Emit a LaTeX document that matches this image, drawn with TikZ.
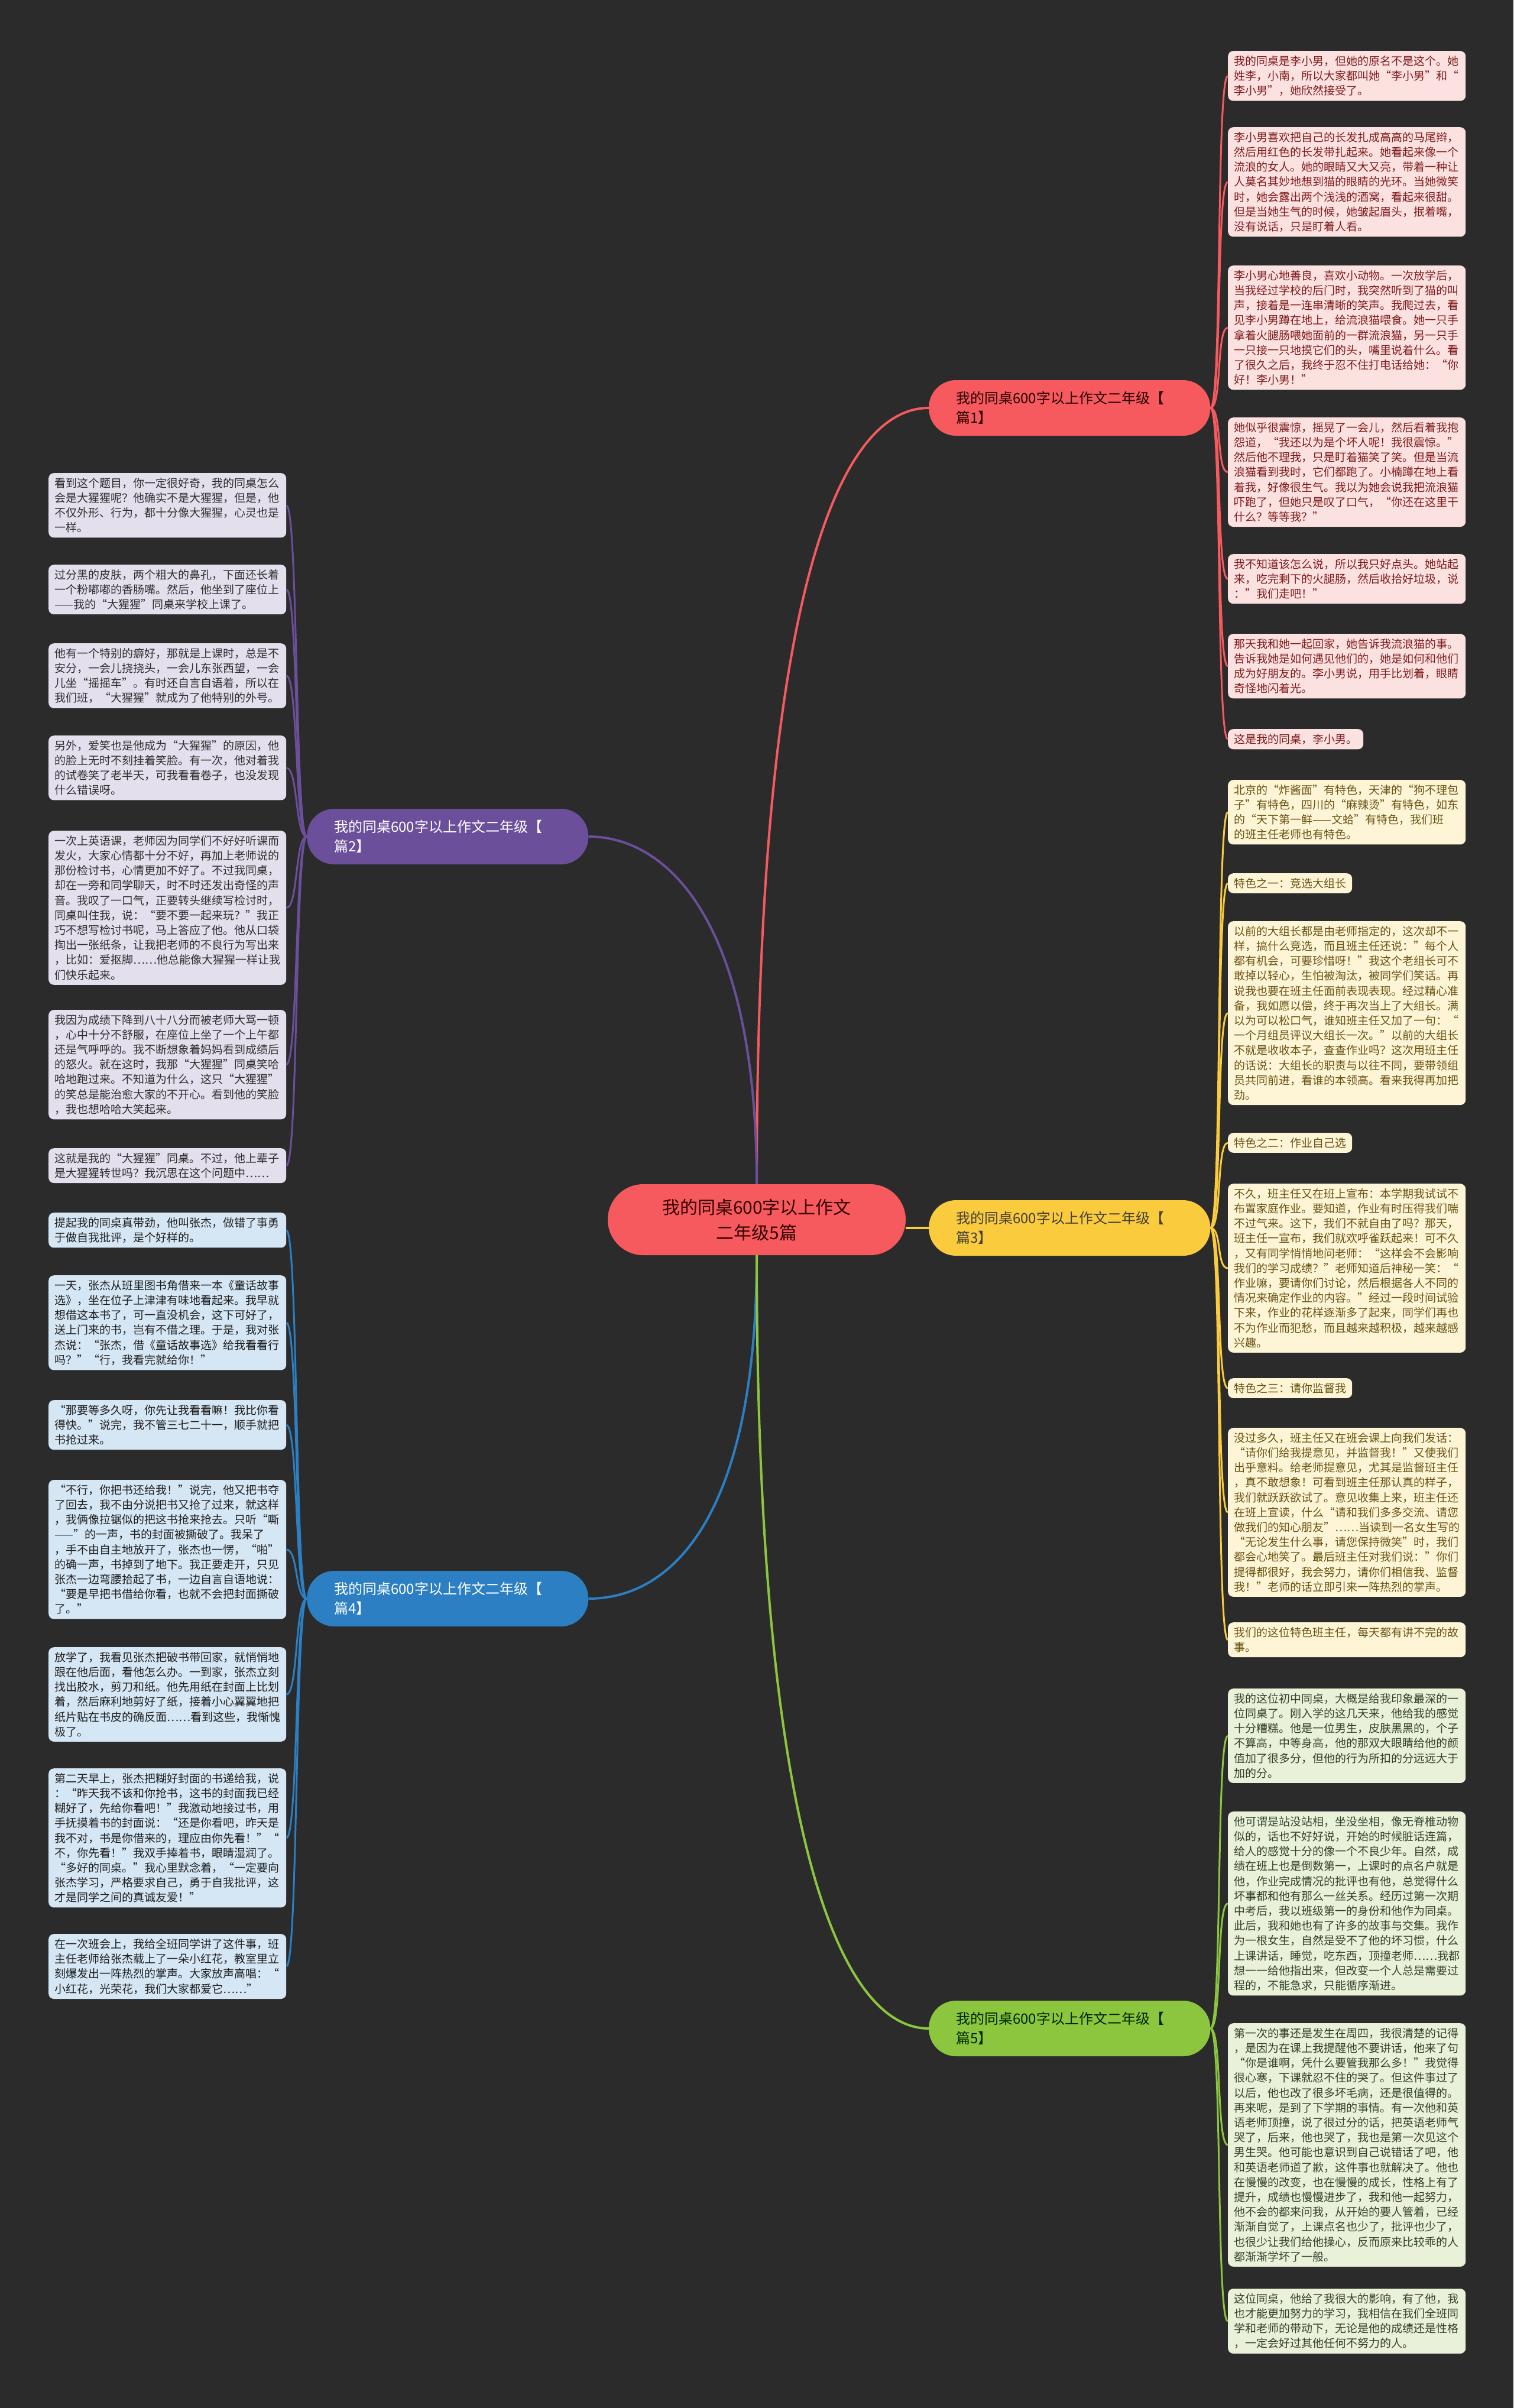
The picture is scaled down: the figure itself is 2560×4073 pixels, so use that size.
\documentclass[tikz,border=0pt]{standalone}
\usepackage{fontspec}
\setmainfont{Noto Sans CJK SC}
\definecolor{bgc}{HTML}{2B2B2B}
\definecolor{redc}{HTML}{F65A5E}
\definecolor{purc}{HTML}{6C4F9B}
\definecolor{yelc}{HTML}{FBCB3E}
\definecolor{bluc}{HTML}{2B7FC2}
\definecolor{grnc}{HTML}{8CC63F}
\definecolor{pinkfill}{HTML}{FCE1E1}
\definecolor{pinktext}{HTML}{7E1B1B}
\definecolor{yelfill}{HTML}{FDF5D6}
\definecolor{yeltext}{HTML}{6A5313}
\definecolor{grnfill}{HTML}{E9F2D9}
\definecolor{grntext}{HTML}{33402A}
\definecolor{purfill}{HTML}{E3DFEC}
\definecolor{purtext}{HTML}{2E2E2E}
\definecolor{blufill}{HTML}{D5E6F4}
\definecolor{blutext}{HTML}{1E1E1E}
\tikzset{
  leafbase/.style={align=left, inner xsep=10pt, inner ysep=8pt, rounded corners=9pt, font=\fontsize{19}{25.2}\selectfont},
  leafwide/.style={leafbase, text width=382pt},
  rleaf/.style={anchor=north west},
  lleaf/.style={anchor=north west},
  pinkleaf/.style={fill=pinkfill, text=pinktext},
  yelleaf/.style={fill=yelfill, text=yeltext},
  grnleaf/.style={fill=grnfill, text=grntext},
  purleaf/.style={fill=purfill, text=purtext},
  bluleaf/.style={fill=blufill, text=blutext},
  branchnode/.style={anchor=west, text width=384pt, align=left, inner xsep=46pt, minimum height=94pt, rounded corners=46pt, font=\fontsize{24}{33}\selectfont},
  trunk/.style={line width=4pt},
  twig/.style={line width=3pt},
}
\begin{document}
\begin{tikzpicture}[x=1pt,y=-1pt]
\useasboundingbox (0,0) rectangle (2560,4073);
\fill[bgc] (0,0) rectangle (2560,4073);

% centre and branches
\node[fill=redc, text=black!80!red, align=center, minimum width=504pt, minimum height=120pt, rounded corners=60pt, font=\fontsize{30}{43}\selectfont] (c) at (1280,2063) {我的同桌600字以上作文\\二年级5篇};
\node[branchnode, fill=redc, text=black!85!red] (b1) at (1571,690) {我的同桌600字以上作文二年级【\\篇1】};
\node[branchnode, fill=purc, text=white] (b2) at (519,1415) {我的同桌600字以上作文二年级【\\篇2】};
\node[branchnode, fill=yelc, text=black!85!yellow] (b3) at (1571,2077) {我的同桌600字以上作文二年级【\\篇3】};
\node[branchnode, fill=bluc, text=white] (b4) at (519,2704) {我的同桌600字以上作文二年级【\\篇4】};
\node[branchnode, fill=grnc, text=black!85!green] (b5) at (1571,3431) {我的同桌600字以上作文二年级【\\篇5】};

% right column: 篇1
\node[leafwide, rleaf, pinkleaf] (r1) at (2077,86) {我的同桌是李小男，但她的原名不是这个。她\\姓李，小南，所以大家都叫她“李小男”和“\\李小男”，她欣然接受了。};
\node[leafwide, rleaf, pinkleaf] (r2) at (2077,215) {李小男喜欢把自己的长发扎成高高的马尾辫，\\然后用红色的长发带扎起来。她看起来像一个\\流浪的女人。她的眼睛又大又亮，带着一种让\\人莫名其妙地想到猫的眼睛的光环。当她微笑\\时，她会露出两个浅浅的酒窝，看起来很甜。\\但是当她生气的时候，她皱起眉头，抿着嘴，\\没有说话，只是盯着人看。};
\node[leafwide, rleaf, pinkleaf] (r3) at (2077,449) {李小男心地善良，喜欢小动物。一次放学后，\\当我经过学校的后门时，我突然听到了猫的叫\\声，接着是一连串清晰的笑声。我爬过去，看\\见李小男蹲在地上，给流浪猫喂食。她一只手\\拿着火腿肠喂她面前的一群流浪猫，另一只手\\一只接一只地摸它们的头，嘴里说着什么。看\\了很久之后，我终于忍不住打电话给她：“你\\好！李小男！”};
\node[leafwide, rleaf, pinkleaf] (r4) at (2077,706) {她似乎很震惊，摇晃了一会儿，然后看着我抱\\怨道，“我还以为是个坏人呢！我很震惊。”\\然后他不理我，只是盯着猫笑了笑。但是当流\\浪猫看到我时，它们都跑了。小楠蹲在地上看\\着我，好像很生气。我以为她会说我把流浪猫\\吓跑了，但她只是叹了口气，“你还在这里干\\什么？等等我？”};
\node[leafwide, rleaf, pinkleaf] (r5) at (2077,937) {我不知道该怎么说，所以我只好点头。她站起\\来，吃完剩下的火腿肠，然后收拾好垃圾，说\\："我们走吧！"};
\node[leafwide, rleaf, pinkleaf] (r6) at (2077,1072) {那天我和她一起回家，她告诉我流浪猫的事。\\告诉我她是如何遇见他们的，她是如何和他们\\成为好朋友的。李小男说，用手比划着，眼睛\\奇怪地闪着光。};
\node[leafbase, rleaf, pinkleaf] (r7) at (2077,1233) {这是我的同桌，李小男。};

% right column: 篇3
\node[leafwide, rleaf, yelleaf] (r8) at (2077,1319) {北京的“炸酱面”有特色，天津的“狗不理包\\子”有特色，四川的“麻辣烫”有特色，如东\\的“天下第一鲜——文蛤”有特色，我们班\\的班主任老师也有特色。};
\node[leafbase, rleaf, yelleaf] (r9) at (2077,1477) {特色之一：竞选大组长};
\node[leafwide, rleaf, yelleaf] (r10) at (2077,1558) {以前的大组长都是由老师指定的，这次却不一\\样，搞什么竞选，而且班主任还说：”每个人\\都有机会，可要珍惜呀！”我这个老组长可不\\敢掉以轻心，生怕被淘汰，被同学们笑话。再\\说我也要在班主任面前表现表现。经过精心准\\备，我如愿以偿，终于再次当上了大组长。满\\以为可以松口气，谁知班主任又加了一句：“\\一个月组员评议大组长一次。”以前的大组长\\不就是收收本子，查查作业吗？这次用班主任\\的话说：大组长的职责与以往不同，要带领组\\员共同前进，看谁的本领高。看来我得再加把\\劲。};
\node[leafbase, rleaf, yelleaf] (r11) at (2077,1916) {特色之二：作业自己选};
\node[leafwide, rleaf, yelleaf] (r12) at (2077,2002) {不久，班主任又在班上宣布：本学期我试试不\\布置家庭作业。要知道，作业有时压得我们喘\\不过气来。这下，我们不就自由了吗？那天，\\班主任一宣布，我们就欢呼雀跃起来！可不久\\，又有同学悄悄地问老师：“这样会不会影响\\我们的学习成绩？”老师知道后神秘一笑：“\\作业嘛，要请你们讨论，然后根据各人不同的\\情况来确定作业的内容。”经过一段时间试验\\下来，作业的花样逐渐多了起来，同学们再也\\不为作业而犯愁，而且越来越积极，越来越感\\兴趣。};
\node[leafbase, rleaf, yelleaf] (r13) at (2077,2331) {特色之三：请你监督我};
\node[leafwide, rleaf, yelleaf] (r14) at (2077,2415) {没过多久，班主任又在班会课上向我们发话：\\“请你们给我提意见，并监督我！”又使我们\\出乎意料。给老师提意见，尤其是监督班主任\\，真不敢想象！可看到班主任那认真的样子，\\我们就跃跃欲试了。意见收集上来，班主任还\\在班上宣读，什么“请和我们多多交流、请您\\做我们的知心朋友”……当读到一名女生写的\\“无论发生什么事，请您保持微笑”时，我们\\都会心地笑了。最后班主任对我们说：”你们\\提得都很好，我会努力，请你们相信我、监督\\我！”老师的话立即引来一阵热烈的掌声。};
\node[leafwide, rleaf, yelleaf] (r15) at (2077,2744) {我们的这位特色班主任，每天都有讲不完的故\\事。};

% right column: 篇5
\node[leafwide, rleaf, grnleaf] (r16) at (2077,2856) {我的这位初中同桌，大概是给我印象最深的一\\位同桌了。刚入学的这几天来，他给我的感觉\\十分糟糕。他是一位男生，皮肤黑黑的，个子\\不算高，中等身高，他的那双大眼睛给他的颜\\值加了很多分，但他的行为所扣的分远远大于\\加的分。};
\node[leafwide, rleaf, grnleaf] (r17) at (2077,3064) {他可谓是站没站相，坐没坐相，像无脊椎动物\\似的，话也不好好说，开始的时候脏话连篇，\\给人的感觉十分的像一个不良少年。自然，成\\绩在班上也是倒数第一，上课时的点名户就是\\他，作业完成情况的批评也有他，总觉得什么\\坏事都和他有那么一丝关系。经历过第一次期\\中考后，我以班级第一的身份和他作为同桌。\\此后，我和她也有了许多的故事与交集。我作\\为一根女生，自然是受不了他的坏习惯，什么\\上课讲话，睡觉，吃东西，顶撞老师……我都\\想一一给他指出来，但改变一个人总是需要过\\程的，不能急求，只能循序渐进。};
\node[leafwide, rleaf, grnleaf] (r18) at (2077,3422) {第一次的事还是发生在周四，我很清楚的记得\\，是因为在课上我提醒他不要讲话，他来了句\\“你是谁啊，凭什么要管我那么多！”我觉得\\很心寒，下课就忍不住的哭了。但这件事过了\\以后，他也改了很多坏毛病，还是很值得的。\\再来呢，是到了下学期的事情。有一次他和英\\语老师顶撞，说了很过分的话，把英语老师气\\哭了，后来，他也哭了，我也是第一次见这个\\男生哭。他可能也意识到自己说错话了吧，他\\和英语老师道了歉，这件事也就解决了。他也\\在慢慢的改变，也在慢慢的成长，性格上有了\\提升，成绩也慢慢进步了，我和他一起努力，\\他不会的都来问我，从开始的要人管着，已经\\渐渐自觉了，上课点名也少了，批评也少了，\\也很少让我们给他操心，反而原来比较乖的人\\都渐渐学坏了一般。};
\node[leafwide, rleaf, grnleaf] (r19) at (2077,3871) {这位同桌，他给了我很大的影响，有了他，我\\也才能更加努力的学习，我相信在我们全班同\\学和老师的带动下，无论是他的成绩还是性格\\，一定会好过其他任何不努力的人。};

% left column: 篇2
\node[leafwide, lleaf, purleaf] (l1) at (82,800) {看到这个题目，你一定很好奇，我的同桌怎么\\会是大猩猩呢？他确实不是大猩猩，但是，他\\不仅外形、行为，都十分像大猩猩，心灵也是\\一样。};
\node[leafwide, lleaf, purleaf] (l2) at (82,955) {过分黑的皮肤，两个粗大的鼻孔，下面还长着\\一个粉嘟嘟的香肠嘴。然后，他坐到了座位上\\——我的“大猩猩”同桌来学校上课了。};
\node[leafwide, lleaf, purleaf] (l3) at (82,1088) {他有一个特别的癖好，那就是上课时，总是不\\安分，一会儿挠挠头，一会儿东张西望，一会\\儿坐“摇摇车”。有时还自言自语着，所以在\\我们班，“大猩猩”就成为了他特别的外号。};
\node[leafwide, lleaf, purleaf] (l4) at (82,1244) {另外，爱笑也是他成为“大猩猩”的原因，他\\的脸上无时不刻挂着笑脸。有一次，他对着我\\的试卷笑了老半天，可我看看卷子，也没发现\\什么错误呀。};
\node[leafwide, lleaf, purleaf] (l5) at (82,1405) {一次上英语课，老师因为同学们不好好听课而\\发火，大家心情都十分不好，再加上老师说的\\那份检讨书，心情更加不好了。不过我同桌，\\却在一旁和同学聊天，时不时还发出奇怪的声\\音。我叹了一口气，正要转头继续写检讨时，\\同桌叫住我，说：“要不要一起来玩？”我正\\巧不想写检讨书呢，马上答应了他。他从口袋\\掏出一张纸条，让我把老师的不良行为写出来\\，比如：爱抠脚……他总能像大猩猩一样让我\\们快乐起来。};
\node[leafwide, lleaf, purleaf] (l6) at (82,1708) {我因为成绩下降到八十八分而被老师大骂一顿\\，心中十分不舒服，在座位上坐了一个上午都\\还是气呼呼的。我不断想象着妈妈看到成绩后\\的怒火。就在这时，我那“大猩猩”同桌笑哈\\哈地跑过来。不知道为什么，这只“大猩猩”\\的笑总是能治愈大家的不开心。看到他的笑脸\\，我也想哈哈大笑起来。};
\node[leafwide, lleaf, purleaf] (l7) at (82,1942) {这就是我的“大猩猩”同桌。不过，他上辈子\\是大猩猩转世吗？我沉思在这个问题中……};

% left column: 篇4
\node[leafwide, lleaf, bluleaf] (l8) at (82,2051) {提起我的同桌真带劲，他叫张杰，做错了事勇\\于做自我批评，是个好样的。};
\node[leafwide, lleaf, bluleaf] (l9) at (82,2157) {一天，张杰从班里图书角借来一本《童话故事\\选》，坐在位子上津津有味地看起来。我早就\\想借这本书了，可一直没机会，这下可好了，\\送上门来的书，岂有不借之理。于是，我对张\\杰说：“张杰，借《童话故事选》给我看看行\\吗？”“行，我看完就给你！”};
\node[leafwide, lleaf, bluleaf] (l10) at (82,2368) {“那要等多久呀，你先让我看看嘛！我比你看\\得快。”说完，我不管三七二十一，顺手就把\\书抢过来。};
\node[leafwide, lleaf, bluleaf] (l11) at (82,2503) {“不行，你把书还给我！”说完，他又把书夺\\了回去，我不由分说把书又抢了过来，就这样\\，我俩像拉锯似的把这书抢来抢去。只听“嘶\\——”的一声，书的封面被撕破了。我呆了\\，手不由自主地放开了，张杰也一愣，“啪”\\的确一声，书掉到了地下。我正要走开，只见\\张杰一边弯腰拾起了书，一边自言自语地说：\\“要是早把书借给你看，也就不会把封面撕破\\了。”};
\node[leafwide, lleaf, bluleaf] (l12) at (82,2786) {放学了，我看见张杰把破书带回家，就悄悄地\\跟在他后面，看他怎么办。一到家，张杰立刻\\找出胶水，剪刀和纸。他先用纸在封面上比划\\着，然后麻利地剪好了纸，接着小心翼翼地把\\纸片贴在书皮的确反面……看到这些，我惭愧\\极了。};
\node[leafwide, lleaf, bluleaf] (l13) at (82,2991) {第二天早上，张杰把糊好封面的书递给我，说\\：“昨天我不该和你抢书，这书的封面我已经\\糊好了，先给你看吧！”我激动地接过书，用\\手抚摸着书的封面说：“还是你看吧，昨天是\\我不对，书是你借来的，理应由你先看！”“\\不，你先看！”我双手捧着书，眼睛湿润了。\\“多好的同桌。”我心里默念着，“一定要向\\张杰学习，严格要求自己，勇于自我批评，这\\才是同学之间的真诚友爱！”};
\node[leafwide, lleaf, bluleaf] (l14) at (82,3271) {在一次班会上，我给全班同学讲了这件事，班\\主任老师给张杰载上了一朵小红花，教室里立\\刻爆发出一阵热烈的掌声。大家放声高唱：“\\小红花，光荣花，我们大家都爱它……”};

% trunk connectors
\begin{scope}[on background layer/.try]
\end{scope}
\draw[trunk, redc] (c.north) .. controls (1280,1000) and (1420,690) .. (b1.west);
\draw[trunk, purc] (c.north) .. controls (1280,1560) and (1130,1415) .. (b2.east);
\draw[trunk, yelc] (c.east |- b3.west) -- (b3.west);
\draw[trunk, bluc] (c.south) .. controls (1280,2560) and (1140,2704) .. (b4.east);
\draw[trunk, grnc] (c.south) .. controls (1280,3100) and (1420,3431) .. (b5.west);

% twig connectors
\foreach \n in {1,...,7}
  \draw[twig, redc] (b1.east) .. controls +(20,0) and +(-20,0) .. (r\n.west);
\foreach \n in {8,...,15}
  \draw[twig, yelc] (b3.east) .. controls +(20,0) and +(-20,0) .. (r\n.west);
\foreach \n in {16,...,19}
  \draw[twig, grnc] (b5.east) .. controls +(20,0) and +(-20,0) .. (r\n.west);
\foreach \n in {1,...,7}
  \draw[twig, purc] (b2.west) .. controls +(-20,0) and +(20,0) .. (l\n.east);
\foreach \n in {8,...,14}
  \draw[twig, bluc] (b4.west) .. controls +(-20,0) and +(20,0) .. (l\n.east);
\end{tikzpicture}
\end{document}
